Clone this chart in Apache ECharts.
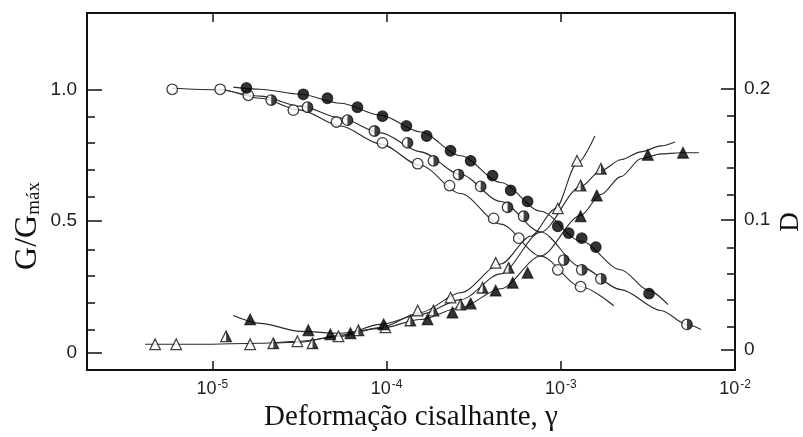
<!DOCTYPE html>
<html>
<head>
<meta charset="utf-8">
<script src="https://cdn.jsdelivr.net/npm/echarts@6/dist/echarts.min.js"></script>
<style>
  html, body { margin: 0; padding: 0; background: #ffffff; }
  #chart { width: 803px; height: 437px; }
</style>
</head>
<body>
<div id="chart"></div>
<script>
// ---- G/Gmax versus shear strain (left axis): measured points and fitted curves ----
const strainGOpen = [5.89e-6, 1.11e-5, 1.61e-5, 2.92e-5, 5.16e-5, 9.48e-5, 1.51e-4, 2.30e-4, 4.12e-4, 5.74e-4, 9.62e-4, 1.30e-3];
const gOpen       = [1.00, 1.00, 0.977, 0.921, 0.876, 0.797, 0.718, 0.635, 0.511, 0.436, 0.316, 0.252];
const fitStrainGOpen = [5.89e-6, 1.11e-5, 1.887e-5, 3.203e-5, 5.438e-5, 9.236e-5, 1.568e-4, 2.662e-4, 4.520e-4, 7.676e-4, 1.303e-3, 2.016e-3];
const fitGOpen       = [1.004, 0.998, 0.966, 0.921, 0.861, 0.793, 0.711, 0.605, 0.489, 0.368, 0.252, 0.180];

const strainGHalf = [2.18e-5, 3.52e-5, 5.97e-5, 8.53e-5, 1.32e-4, 1.86e-4, 2.59e-4, 3.47e-4, 4.95e-4, 6.12e-4, 1.04e-3, 1.32e-3, 1.70e-3, 5.30e-3];
const gHalf       = [0.959, 0.932, 0.883, 0.842, 0.797, 0.729, 0.677, 0.632, 0.553, 0.519, 0.353, 0.316, 0.282, 0.109];
const fitStrainGHalf = [1.142e-5, 1.887e-5, 3.203e-5, 5.438e-5, 9.236e-5, 1.568e-4, 2.662e-4, 4.520e-4, 7.676e-4, 1.303e-3, 2.212e-3, 3.755e-3, 5.30e-3, 6.376e-3];
const fitGHalf       = [1.000, 0.974, 0.936, 0.891, 0.835, 0.763, 0.677, 0.575, 0.459, 0.327, 0.241, 0.162, 0.109, 0.090];

const strainGFull = [1.57e-5, 3.33e-5, 4.58e-5, 6.81e-5, 9.48e-5, 1.30e-4, 1.70e-4, 2.33e-4, 3.04e-4, 4.06e-4, 5.16e-4, 6.45e-4, 9.62e-4, 1.11e-3, 1.32e-3, 1.59e-3, 3.21e-3];
const gFull       = [1.005, 0.981, 0.966, 0.932, 0.898, 0.861, 0.823, 0.767, 0.729, 0.673, 0.617, 0.575, 0.481, 0.455, 0.436, 0.402, 0.226];
const fitStrainGFull = [1.320e-5, 1.887e-5, 3.203e-5, 5.438e-5, 9.236e-5, 1.568e-4, 2.662e-4, 4.520e-4, 7.676e-4, 1.303e-3, 2.212e-3, 3.203e-3, 4.12e-3];
const fitGFull       = [1.008, 1.000, 0.981, 0.947, 0.902, 0.838, 0.748, 0.647, 0.538, 0.425, 0.316, 0.237, 0.184];

// ---- damping ratio D versus shear strain (right axis): measured points and fitted curves ----
const strainDOpen = [4.70e-6, 6.21e-6, 1.65e-5, 3.08e-5, 5.30e-5, 9.86e-5, 1.51e-4, 2.33e-4, 4.23e-4, 9.62e-4, 1.24e-3];
const dOpen       = [0.0045, 0.0045, 0.0045, 0.0068, 0.0106, 0.0174, 0.0303, 0.0402, 0.0667, 0.1083, 0.1447];
const fitStrainDOpen = [4.120e-6, 8.53e-6, 1.887e-5, 3.203e-5, 5.438e-5, 9.236e-5, 1.568e-4, 2.662e-4, 4.520e-4, 6.724e-4, 9.36e-4, 1.236e-3, 1.57e-3];
const fitDOpen       = [0.0045, 0.0045, 0.0053, 0.0068, 0.0106, 0.0174, 0.0288, 0.0439, 0.0659, 0.0871, 0.1083, 0.1424, 0.1636];

const strainDHalf = [1.20e-5, 2.24e-5, 3.76e-5, 6.90e-5, 1.37e-4, 1.86e-4, 2.66e-4, 3.56e-4, 5.02e-4, 1.30e-3, 1.70e-3];
const dHalf       = [0.0106, 0.0053, 0.0053, 0.0152, 0.0227, 0.0303, 0.0348, 0.0477, 0.0629, 0.1258, 0.1386];
const fitStrainDHalf = [2.24e-5, 3.203e-5, 5.438e-5, 9.236e-5, 1.568e-4, 2.662e-4, 4.520e-4, 7.676e-4, 1.303e-3, 1.698e-3, 2.212e-3, 2.883e-3, 3.755e-3, 4.52e-3];
const fitDHalf       = [0.0053, 0.0061, 0.0114, 0.0197, 0.0273, 0.0386, 0.0583, 0.0902, 0.1250, 0.1371, 0.1455, 0.1515, 0.1561, 0.1591];

const strainDFull = [1.65e-5, 3.56e-5, 4.76e-5, 6.21e-5, 9.62e-5, 1.72e-4, 2.39e-4, 3.04e-4, 4.23e-4, 5.30e-4, 6.45e-4, 1.30e-3, 1.61e-3, 3.16e-3, 5.03e-3];
const dFull       = [0.0235, 0.0152, 0.0121, 0.0129, 0.0197, 0.0235, 0.0288, 0.0356, 0.0455, 0.0515, 0.0591, 0.1023, 0.1182, 0.1492, 0.1508];
const fitStrainDFull = [1.320e-5, 1.887e-5, 3.203e-5, 5.438e-5, 9.236e-5, 1.568e-4, 2.662e-4, 4.520e-4, 7.676e-4, 1.303e-3, 1.698e-3, 2.212e-3, 2.883e-3, 3.755e-3, 4.894e-3, 6.209e-3];
const fitDFull       = [0.0265, 0.0205, 0.0144, 0.0129, 0.0167, 0.0235, 0.0326, 0.0470, 0.0720, 0.1030, 0.1189, 0.1326, 0.1462, 0.1500, 0.1508, 0.1508];

// ---- axis ranges and tick values ----
const strainMin = 1.91e-6, strainMax = 1e-2;
const gMin = -0.064, gMax = 1.289;
const dMin = -0.0152, dMax = 0.2576;
const gLabelValues = [0, 0.5, 1.0];
const gMinorValues = [0.1, 0.2, 0.3, 0.4, 0.6, 0.7, 0.8, 0.9];
const dLabelValues = [0, 0.1, 0.2];
const dMinorValues = [0.02, 0.04, 0.06, 0.08, 0.12, 0.14, 0.16, 0.18];

const INK = '#111111';
const LABEL = '#222222';
const SANS = '"Liberation Sans", Arial, sans-serif';
const SERIF = '"Liberation Serif", "Times New Roman", serif';

// half-filled marker shapes (the two leading moves keep a 10x10 frame)
const HALF_CIRCLE = 'path://M0,0M10,10M5,0A5,5,0,0,1,5,10Z';
const HALF_TRIANGLE = 'path://M0,0M10,10M5,0L10,10L5,10Z';

function zip(xs, ys) { return xs.map((x, i) => [x, ys[i]]); }

function lineSeries(data, yAxisIndex) {
  return {
    type: 'line', xAxisIndex: 0, yAxisIndex, data,
    smooth: 0.3, smoothMonotone: 'x', symbol: 'none', silent: true,
    lineStyle: { color: '#2a2a2a', width: 1.1 }, z: 2
  };
}
function markerSeries(data, yAxisIndex, symbol, fill) {
  return {
    type: 'scatter', xAxisIndex: 0, yAxisIndex, data, symbol, symbolSize: 10.5, silent: true,
    itemStyle: { color: fill, borderColor: INK, borderWidth: 1.3 }, z: 3
  };
}
function halfSeries(data, yAxisIndex, symbol) {
  return {
    type: 'scatter', xAxisIndex: 0, yAxisIndex, data, symbol, symbolSize: 10.5, silent: true,
    itemStyle: { color: INK, borderWidth: 0 }, z: 4
  };
}

function decadeLabel(v) {
  const e = Math.log10(v);
  const r = Math.round(e);
  if (Math.abs(e - r) > 1e-6) return '';
  return '{b|10}{s|' + r + '}';
}
const decimalLabel = v => (v === 0 ? '0' : v.toFixed(1));

const frameLine = { show: true, onZero: false, lineStyle: { color: INK, width: 2 } };
const tickStyle = { color: INK, width: 1.5 };
const gridRect = { left: 87, right: 68, top: 13, bottom: 64, containLabel: false };

const chart = echarts.init(document.getElementById('chart'), null, { renderer: 'canvas' });
chart.setOption({
  animation: false,
  backgroundColor: '#ffffff',
  grid: [Object.assign({}, gridRect), Object.assign({}, gridRect)],
  xAxis: [
    {
      gridIndex: 0, type: 'log', position: 'bottom', min: strainMin, max: strainMax,
      name: 'Deformação cisalhante, γ', nameLocation: 'middle', nameGap: 29,
      nameTextStyle: { fontFamily: SERIF, fontSize: 29, color: INK },
      axisLine: frameLine,
      axisTick: { show: true, inside: true, length: 9, lineStyle: tickStyle },
      minorTick: { show: false }, splitLine: { show: false },
      axisLabel: {
        show: true, margin: 9, showMinLabel: false, formatter: decadeLabel,
        rich: {
          b: { fontFamily: SANS, fontSize: 18, color: LABEL },
          s: { fontFamily: SANS, fontSize: 12, color: LABEL, verticalAlign: 'top', padding: [0, 0, 8, 1] }
        }
      }
    },
    {
      gridIndex: 0, type: 'log', position: 'top', min: strainMin, max: strainMax,
      axisLine: frameLine,
      axisTick: { show: true, inside: true, length: 9, lineStyle: tickStyle },
      splitLine: { show: false }, axisLabel: { show: false }
    },
    {
      gridIndex: 1, type: 'log', position: 'bottom', min: strainMin, max: strainMax,
      axisLine: { show: false }, axisTick: { show: false }, splitLine: { show: false }, axisLabel: { show: false }
    }
  ],
  yAxis: [
    {
      gridIndex: 0, type: 'value', position: 'left', min: gMin, max: gMax,
      axisLine: frameLine,
      axisTick: { show: true, inside: true, length: 15, customValues: gLabelValues, lineStyle: tickStyle },
      splitLine: { show: false },
      axisLabel: {
        show: true, margin: 10, customValues: gLabelValues, formatter: decimalLabel,
        fontFamily: SANS, fontSize: 19, color: LABEL
      }
    },
    {
      gridIndex: 0, type: 'value', position: 'right', min: dMin, max: dMax,
      axisLine: frameLine,
      axisTick: { show: true, inside: true, length: 14, customValues: dLabelValues, lineStyle: tickStyle },
      splitLine: { show: false },
      axisLabel: {
        show: true, margin: 9, customValues: dLabelValues, formatter: decimalLabel,
        fontFamily: SANS, fontSize: 19, color: LABEL
      }
    },
    {
      gridIndex: 1, type: 'value', position: 'left', min: gMin, max: gMax,
      axisLine: { show: false, onZero: false },
      axisTick: { show: true, inside: true, length: 8, customValues: gMinorValues, lineStyle: tickStyle },
      splitLine: { show: false }, axisLabel: { show: false }
    },
    {
      gridIndex: 1, type: 'value', position: 'right', min: dMin, max: dMax,
      axisLine: { show: false, onZero: false },
      axisTick: { show: true, inside: true, length: 8, customValues: dMinorValues, lineStyle: tickStyle },
      splitLine: { show: false }, axisLabel: { show: false }
    }
  ],
  graphic: [
    {
      type: 'text', x: 28, y: 226, rotation: Math.PI / 2,
      style: {
        text: '{a|G/G}{b|máx}', align: 'center', verticalAlign: 'middle',
        rich: {
          a: { fontFamily: SERIF, fontSize: 32, fill: INK },
          b: { fontFamily: SERIF, fontSize: 19, fill: INK, verticalAlign: 'bottom', padding: [9, 0, 0, 0] }
        }
      }
    },
    {
      type: 'text', x: 791, y: 222, rotation: Math.PI / 2,
      style: { text: 'D', align: 'center', verticalAlign: 'middle', fontFamily: SERIF, fontSize: 27, fill: INK }
    }
  ],
  series: [
    lineSeries(zip(fitStrainGOpen, fitGOpen), 0),
    lineSeries(zip(fitStrainGHalf, fitGHalf), 0),
    lineSeries(zip(fitStrainGFull, fitGFull), 0),
    lineSeries(zip(fitStrainDOpen, fitDOpen), 1),
    lineSeries(zip(fitStrainDHalf, fitDHalf), 1),
    lineSeries(zip(fitStrainDFull, fitDFull), 1),

    markerSeries(zip(strainGOpen, gOpen), 0, 'circle', '#ffffff'),
    markerSeries(zip(strainGHalf, gHalf), 0, 'circle', '#ffffff'),
    halfSeries(zip(strainGHalf, gHalf), 0, HALF_CIRCLE),
    markerSeries(zip(strainGFull, gFull), 0, 'circle', '#000000'),

    markerSeries(zip(strainDOpen, dOpen), 1, 'triangle', '#ffffff'),
    markerSeries(zip(strainDHalf, dHalf), 1, 'triangle', '#ffffff'),
    halfSeries(zip(strainDHalf, dHalf), 1, HALF_TRIANGLE),
    markerSeries(zip(strainDFull, dFull), 1, 'triangle', '#000000')
  ]
});
</script>
</body>
</html>
